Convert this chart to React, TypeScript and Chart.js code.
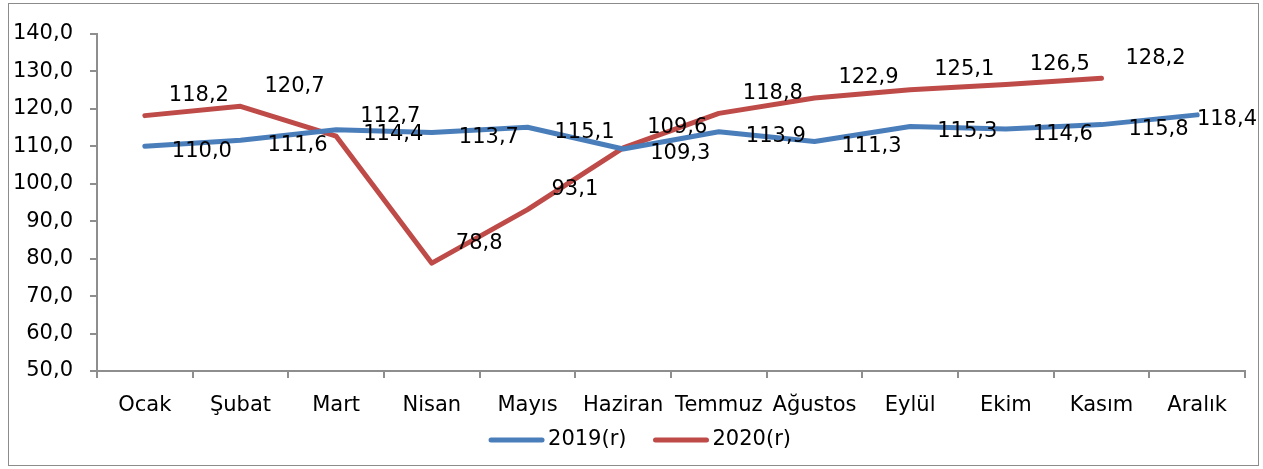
import React, { useEffect, useRef } from "react";
import { Chart, registerables } from "chart.js";

Chart.register(...registerables);

// ---------- data ----------
const months = [
  "Ocak", "Şubat", "Mart", "Nisan", "Mayıs", "Haziran",
  "Temmuz", "Ağustos", "Eylül", "Ekim", "Kasım", "Aralık",
];
const values2019 = [110.0, 111.6, 114.4, 113.7, 115.1, 109.3, 113.9, 111.3, 115.3, 114.6, 115.8, 118.4];
const values2020 = [118.2, 120.7, 112.7, 78.8, 93.1, 109.6, 118.8, 122.9, 125.1, 126.5, 128.2, null];
const seriesLabels = ["2019(r)", "2020(r)"];
const yMin = 50;
const yMax = 140;
const yStep = 10;

// ---------- styling ----------
const FONT = "'DejaVu Sans', sans-serif";
const FONT_SIZE = 21;
const BLUE = "#4A7EBB";
const RED = "#BE4B48";
const AXIS = "#8E8E8E";
const LABEL_OFFSETS = [
  { dx: 27, dy: 5 },
  { dx: 24, dy: -20 },
];
const LEGEND_CX = 640;
const LEGEND_Y = 440;

const fmt = (v: number) => v.toFixed(1).replace(".", ",");

const framePlugin = {
  id: "frame",
  beforeDraw(chart: any) {
    const ctx = chart.ctx;
    ctx.save();
    ctx.fillStyle = "#fff";
    ctx.fillRect(0, 0, chart.width, chart.height);
    ctx.strokeStyle = "#8C8C8C";
    ctx.lineWidth = 1;
    ctx.strokeRect(8.5, 3.5, 1250, 462);
    ctx.restore();
  },
};

const valueLabelPlugin = {
  id: "valueLabels",
  afterDatasetsDraw(chart: any) {
    const ctx = chart.ctx;
    ctx.save();
    ctx.font = `${FONT_SIZE}px ${FONT}`;
    ctx.fillStyle = "#000";
    ctx.textBaseline = "middle";
    ctx.textAlign = "left";
    chart.data.datasets.forEach((ds: any, di: number) => {
      const meta = chart.getDatasetMeta(di);
      const off = LABEL_OFFSETS[di];
      meta.data.forEach((pt: any, i: number) => {
        const v = ds.data[i];
        if (v == null) return;
        const text = fmt(v);
        const w = ctx.measureText(text).width;
        let x = pt.x + off.dx;
        if (x + w > chart.width - 6) x = chart.width - 6 - w;
        ctx.fillText(text, x, pt.y + off.dy);
      });
    });
    ctx.restore();
  },
};

const legendPlugin = {
  id: "customLegend",
  afterDraw(chart: any) {
    const ctx = chart.ctx;
    ctx.save();
    ctx.font = `${FONT_SIZE}px ${FONT}`;
    const sample = 55;
    const gap = 4;
    const itemGap = 27;
    const items = chart.data.datasets.map((ds: any) => ({
      text: ds.label,
      color: ds.borderColor,
      w: ctx.measureText(ds.label).width,
    }));
    const total =
      items.reduce((s: number, it: any) => s + sample + gap + it.w, 0) +
      itemGap * (items.length - 1);
    let x = LEGEND_CX - total / 2;
    items.forEach((it: any) => {
      ctx.strokeStyle = it.color;
      ctx.lineWidth = 5;
      ctx.lineCap = "round";
      ctx.beginPath();
      ctx.moveTo(x + 2, LEGEND_Y);
      ctx.lineTo(x + sample - 2, LEGEND_Y);
      ctx.stroke();
      ctx.fillStyle = "#000";
      ctx.textBaseline = "middle";
      ctx.textAlign = "left";
      ctx.fillText(it.text, x + sample + gap, LEGEND_Y);
      x += sample + gap + it.w + itemGap;
    });
    ctx.restore();
  },
};

export default function App() {
  const canvasRef = useRef<HTMLCanvasElement>(null);

  useEffect(() => {
    if (!canvasRef.current) return;
    Chart.defaults.font.family = FONT;
    Chart.defaults.font.size = FONT_SIZE;
    Chart.defaults.color = "#000";
    const chart = new Chart(canvasRef.current, {
      type: "line",
      data: {
        labels: months,
        datasets: [
          {
            label: seriesLabels[0],
            data: values2019,
            borderColor: BLUE,
            backgroundColor: BLUE,
            borderWidth: 5,
            pointRadius: 0,
            tension: 0,
            borderJoinStyle: "round",
            borderCapStyle: "round",
          },
          {
            label: seriesLabels[1],
            data: values2020,
            borderColor: RED,
            backgroundColor: RED,
            borderWidth: 5,
            pointRadius: 0,
            tension: 0,
            borderJoinStyle: "round",
            borderCapStyle: "round",
          },
        ],
      },
      options: {
        responsive: false,
        animation: false,
        layout: { padding: { left: 0, right: 18, top: 34, bottom: 38 } },
        plugins: {
          legend: { display: false },
          tooltip: { enabled: false },
        },
        scales: {
          x: {
            offset: true,
            grid: {
              offset: true,
              drawOnChartArea: false,
              drawTicks: true,
              tickLength: 7,
              color: AXIS,
              lineWidth: 2,
            },
            border: { display: true, color: AXIS, width: 2 },
            ticks: {
              autoSkip: false,
              maxRotation: 0,
              minRotation: 0,
              padding: 15,
              color: "#000",
              font: { family: FONT, size: FONT_SIZE },
            },
            afterFit: (scale: any) => {
              scale.height = 60;
            },
          },
          y: {
            min: yMin,
            max: yMax,
            grid: {
              drawOnChartArea: false,
              drawTicks: true,
              tickLength: 7,
              color: AXIS,
              lineWidth: 2,
            },
            border: { display: true, color: AXIS, width: 2 },
            ticks: {
              stepSize: yStep,
              padding: 17,
              color: "#000",
              font: { family: FONT, size: FONT_SIZE },
              callback: (v: any) => fmt(Number(v)),
            },
            afterFit: (scale: any) => {
              scale.width = 97;
            },
          },
        },
      },
      plugins: [framePlugin, valueLabelPlugin, legendPlugin],
    });
    return () => chart.destroy();
  }, []);

  return (
    <div
      style={{
        position: "fixed",
        left: 0,
        top: 0,
        width: 1263,
        height: 469,
        background: "#fff",
      }}
    >
      <canvas ref={canvasRef} width={1263} height={469} style={{ display: "block" }} />
    </div>
  );
}
